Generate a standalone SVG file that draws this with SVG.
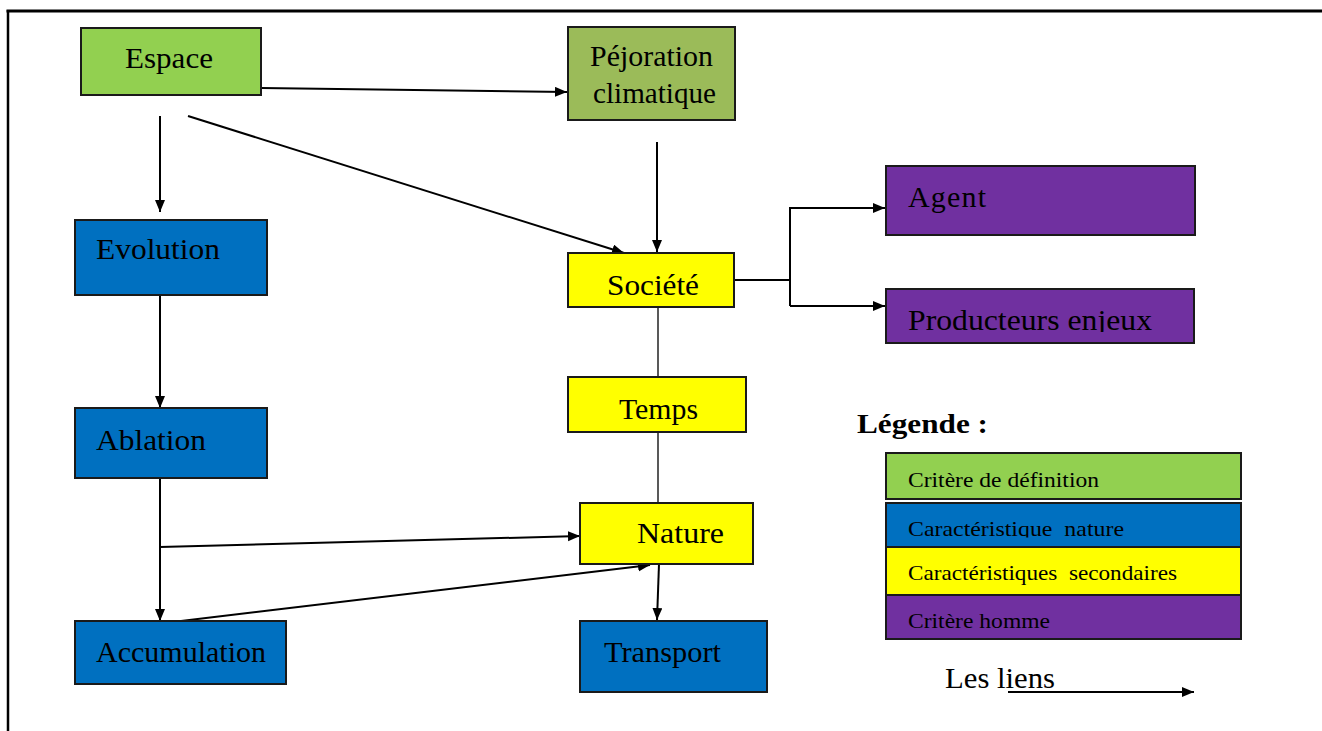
<svg xmlns="http://www.w3.org/2000/svg" width="1322" height="731" viewBox="0 0 1322 731">
<style>
.box{stroke:#1a1a1a;stroke-width:2}
.g1{fill:#92D050}.g2{fill:#9BBB59}.bl{fill:#0070C0}.ye{fill:#FFFF00}.pu{fill:#7030A0}
.t{font-family:"Liberation Serif","Times New Roman",serif;font-size:30px;fill:#000}
.s{font-family:"Liberation Serif","Times New Roman",serif;font-size:22px;fill:#000}
.c{stroke:#000;stroke-width:2;fill:none}
.c2{stroke:#222;stroke-width:1.5;fill:none}
.a{marker-end:url(#ah)}
</style>
<defs>
<marker id="ah" markerUnits="userSpaceOnUse" markerWidth="14" markerHeight="12" refX="12" refY="5" orient="auto">
<path d="M0,0 L12,5 L0,10 z" fill="#000"/>
</marker>
<clipPath id="clipProd"><rect x="886" y="289" width="309" height="43"/></clipPath>
<clipPath id="clipCar"><rect x="886" y="503" width="356" height="34.5"/></clipPath>
</defs>
<rect width="1322" height="731" fill="#fff"/>
<g id="frame">
<line x1="6.5" y1="11" x2="1322" y2="11" stroke="#000" stroke-width="3"/>
<line x1="8" y1="10" x2="8" y2="731" stroke="#000" stroke-width="2.5"/>
</g>
<g id="connectors">
<line class="c a" x1="261" y1="88" x2="567" y2="92"/>
<line class="c a" x1="160" y1="116" x2="160" y2="212"/>
<line class="c a" x1="188" y1="116" x2="624" y2="253"/>
<line class="c a" x1="657" y1="142" x2="657" y2="252"/>
<polyline class="c" points="734,280 790,280"/>
<polyline class="c a" points="790,306 790,208 885,208"/>
<line class="c a" x1="790" y1="306" x2="885" y2="306"/>
<line class="c2" x1="658" y1="307" x2="658" y2="377"/>
<line class="c2" x1="658" y1="432" x2="658" y2="503"/>
<line class="c a" x1="160" y1="295" x2="160" y2="408"/>
<line class="c a" x1="160" y1="478" x2="160" y2="621"/>
<line class="c a" x1="160" y1="547" x2="580" y2="536"/>
<line class="c a" x1="181" y1="621" x2="650" y2="565"/>
<line class="c a" x1="659" y1="564" x2="657" y2="620"/>
</g>
<g id="espace">
<rect class="box g1" x="81" y="28" width="180" height="67"/>
<text class="t" x="125" y="68" textLength="88" lengthAdjust="spacingAndGlyphs">Espace</text>
</g>
<g id="pejoration">
<rect class="box g2" x="568" y="27" width="167" height="93"/>
<text class="t" x="590" y="66" textLength="123" lengthAdjust="spacingAndGlyphs">Péjoration</text>
<text class="t" x="593" y="103" textLength="123" lengthAdjust="spacingAndGlyphs">climatique</text>
</g>
<g id="evolution">
<rect class="box bl" x="75" y="220" width="192" height="75"/>
<text class="t" x="96" y="259" textLength="124" lengthAdjust="spacingAndGlyphs">Evolution</text>
</g>
<g id="societe">
<rect class="box ye" x="568" y="253" width="166" height="54"/>
<text class="t" x="607" y="295" textLength="92" lengthAdjust="spacingAndGlyphs">Société</text>
</g>
<g id="agent">
<rect class="box pu" x="886" y="166" width="309" height="69"/>
<text class="t" x="908" y="207" textLength="78" lengthAdjust="spacing">Agent</text>
</g>
<g id="producteurs">
<rect class="box pu" x="886" y="289" width="308" height="54"/>
<text class="t" x="908" y="330" textLength="244" lengthAdjust="spacingAndGlyphs" clip-path="url(#clipProd)">Producteurs enjeux</text>
</g>
<g id="temps">
<rect class="box ye" x="568" y="377" width="178" height="55"/>
<text class="t" x="619" y="419" textLength="79" lengthAdjust="spacingAndGlyphs">Temps</text>
</g>
<g id="ablation">
<rect class="box bl" x="75" y="408" width="192" height="70"/>
<text class="t" x="96" y="450" textLength="110" lengthAdjust="spacingAndGlyphs">Ablation</text>
</g>
<g id="nature">
<rect class="box ye" x="580" y="503" width="173" height="61"/>
<text class="t" x="637" y="543" textLength="87" lengthAdjust="spacingAndGlyphs">Nature</text>
</g>
<g id="accumulation">
<rect class="box bl" x="75" y="621" width="211" height="63"/>
<text class="t" x="96" y="662" textLength="170" lengthAdjust="spacingAndGlyphs">Accumulation</text>
</g>
<g id="transport">
<rect class="box bl" x="580" y="621" width="187" height="71"/>
<text class="t" x="604" y="662" textLength="117" lengthAdjust="spacingAndGlyphs">Transport</text>
</g>
<g id="legende">
<text x="857" y="433" font-family="Liberation Serif, Times New Roman, serif" font-size="28" font-weight="bold" textLength="131" lengthAdjust="spacingAndGlyphs">Légende :</text>
<rect class="box g1" x="886" y="453" width="355" height="46"/>
<text class="s" x="908" y="487" textLength="191" lengthAdjust="spacingAndGlyphs">Critère de définition</text>
<rect class="box bl" x="886" y="503" width="355" height="44"/>
<text class="s" x="908" y="536" textLength="216" lengthAdjust="spacingAndGlyphs" xml:space="preserve" clip-path="url(#clipCar)">Caractéristique  nature</text>
<rect class="box ye" x="886" y="547" width="355" height="48"/>
<text class="s" x="908" y="580" textLength="269" lengthAdjust="spacingAndGlyphs" xml:space="preserve">Caractéristiques  secondaires</text>
<rect class="box pu" x="886" y="595" width="355" height="44"/>
<text class="s" x="908" y="628" textLength="142" lengthAdjust="spacingAndGlyphs">Critère homme</text>
<text class="t" x="945" y="688" textLength="110" lengthAdjust="spacingAndGlyphs">Les liens</text>
<line class="c a" x1="1008" y1="692" x2="1194" y2="692"/>
</g>
</svg>
